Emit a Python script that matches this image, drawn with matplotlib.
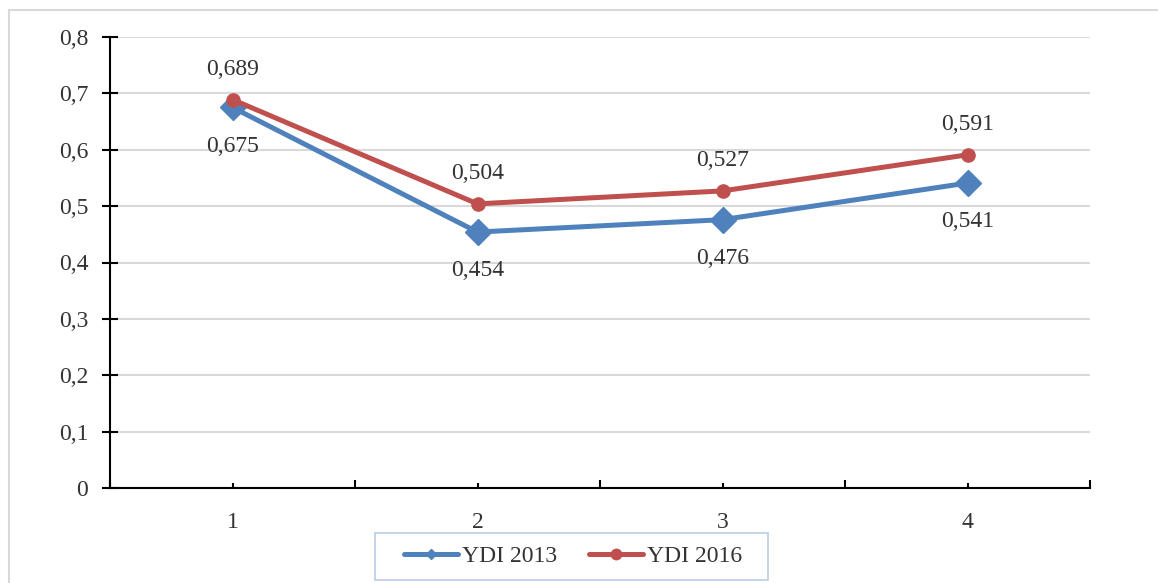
import matplotlib
matplotlib.use("Agg")
import matplotlib.pyplot as plt
from matplotlib.lines import Line2D
from matplotlib.patches import Rectangle

categories = [1, 2, 3, 4]
ydi_2013 = [0.675, 0.454, 0.476, 0.541]
ydi_2016 = [0.689, 0.504, 0.527, 0.591]
y_ticks = [0, 0.1, 0.2, 0.3, 0.4, 0.5, 0.6, 0.7, 0.8]
y_tick_labels = ["0", "0,1", "0,2", "0,3", "0,4", "0,5", "0,6", "0,7", "0,8"]
series_names = ["YDI 2013", "YDI 2016"]

plt.rcParams['font.family'] = ['Liberation Serif', 'DejaVu Serif']
FS = 17
TXT = '#333333'

W, H = 1158, 583
fig = plt.figure(figsize=(W / 100, H / 100), dpi=100)
ax = fig.add_axes([110 / W, 1 - 488 / H, 980 / W, (488 - 37) / H])

blue = '#4f81bd'
red = '#c0504d'

ax.plot(categories, ydi_2013, color=blue, lw=3.6, marker='D', ms=13,
        mec=blue, mfc=blue, zorder=3, solid_capstyle='round')
ax.plot(categories, ydi_2016, color=red, lw=3.6, marker='o', ms=9.5,
        mec=red, mfc=red, zorder=4, solid_capstyle='round')

def fmt(v):
    return f"{v:.3f}".replace('.', ',')

for x, v in zip(categories, ydi_2013):
    ax.annotate(fmt(v), (x, v), xytext=(0, -28), textcoords='offset points',
                ha='center', va='center', fontsize=FS, color=TXT)
for x, v in zip(categories, ydi_2016):
    ax.annotate(fmt(v), (x, v), xytext=(0, 22), textcoords='offset points',
                ha='center', va='center', fontsize=FS, color=TXT)

ax.set_xlim(0.5, 4.5)
ax.set_ylim(0, 0.8)
ax.set_yticks(y_ticks, y_tick_labels)
ax.set_xticks(categories, [str(c) for c in categories])
ax.set_xticks([0.5, 1.5, 2.5, 3.5, 4.5], minor=True)
ax.yaxis.grid(True, color='#d9d9d9', lw=1.5)
ax.set_axisbelow(True)

for s in ['top', 'right']:
    ax.spines[s].set_visible(False)
for s in ['left', 'bottom']:
    ax.spines[s].set_linewidth(1.5)
    ax.spines[s].set_color('black')

ax.tick_params(axis='y', direction='inout', length=11.5, width=1.5, pad=10,
               labelsize=FS, labelcolor=TXT)
ax.tick_params(axis='x', which='major', direction='in', length=3.5, width=1.5,
               pad=17, labelsize=FS, labelcolor=TXT)
ax.tick_params(axis='x', which='minor', direction='in', length=5.5, width=1.5)

handles = [
    Line2D([], [], color=blue, lw=3.6, marker='D', ms=5.5, mec=blue, mfc=blue,
           solid_capstyle='round'),
    Line2D([], [], color=red, lw=3.6, marker='o', ms=7.5, mec=red, mfc=red,
           solid_capstyle='round'),
]
leg = fig.legend(handles, series_names, loc='center',
                 bbox_to_anchor=(573 / W, 1 - 556.5 / H),
                 ncol=2, fontsize=FS, frameon=False,
                 handlelength=2.3, columnspacing=1.36,
                 handletextpad=0.17, borderpad=0.0, borderaxespad=0)
for t in leg.get_texts():
    t.set_color(TXT)

# legend frame
fig.add_artist(Rectangle((375 / W, 1 - 580 / H), (768 - 375) / W, (580 - 533) / H,
                         transform=fig.transFigure, fill=False,
                         edgecolor='#b9cde5', lw=1.2))

# outer chart-area border
fig.add_artist(Line2D([9 / W, 1.0], [1 - 10 / H, 1 - 10 / H], color='#d9d9d9', lw=1.5,
                      transform=fig.transFigure))
fig.add_artist(Line2D([9 / W, 9 / W], [0, 1 - 10 / H], color='#d9d9d9', lw=1.5,
                      transform=fig.transFigure))

fig.savefig('out.png', dpi=100)
